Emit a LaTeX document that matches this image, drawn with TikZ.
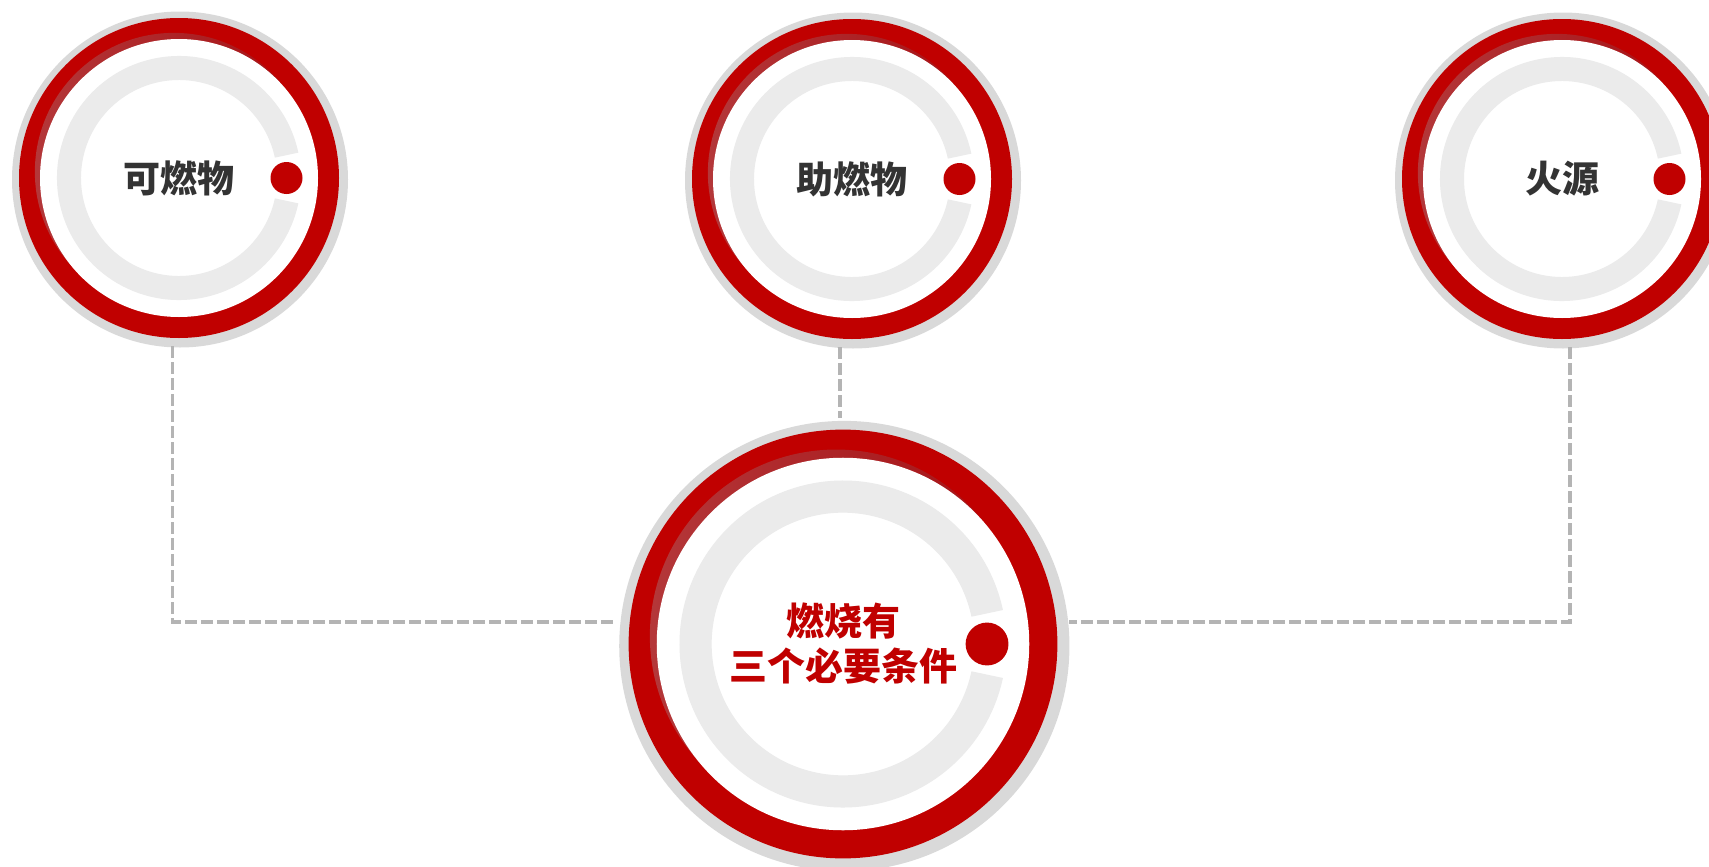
\documentclass[tikz,border=0pt]{standalone}
\usepackage{fontspec}
\newfontfamily\cjk{Noto Sans CJK SC}
\usepackage{tikz}
\definecolor{ringred}{RGB}{192,0,0}
\definecolor{ringshadow}{RGB}{217,217,217}
\definecolor{arcgrey}{RGB}{235,235,235}
\definecolor{textgrey}{RGB}{51,51,51}
\definecolor{linegrey}{RGB}{180,180,180}
\definecolor{crescentlight}{RGB}{180,56,58}
\definecolor{crescentdark}{RGB}{165,14,18}

\tikzset{
	link/.style={draw=linegrey, line width=1.85pt, dash pattern=on 6pt off 2pt},
	smalllabel/.style={circle, minimum size=168pt, inner sep=0pt, text=textgrey,
		font=\cjk\bfseries\fontsize{18.5}{22}\selectfont},
	biglabel/.style={circle, minimum size=226pt, inner sep=0pt, text=ringred, align=center,
		font=\cjk\bfseries\fontsize{19}{22.5}\selectfont}
}

\begin{document}
\begin{tikzpicture}[x=0.5pt,y=0.5pt]
		\useasboundingbox (0,0) rectangle (1709,-867);
		\clip (0,0) rectangle (1709,-867);
		% rings
		\foreach \cx/\cy/\s in {179/178/1, 852/179/1, 1562/179/1, 843/644/1.34} {
			\begin{scope}[shift={(\cx,-\cy)}, scale=\s]
				\fill[ringshadow] (1,-1.5) circle (168);
				\fill[ringred] (0,0) circle (160);
				\begin{scope}
					\clip (130:8) circle (139);
					\shade[left color=crescentlight, right color=crescentdark] (-150,-150) rectangle (150,150);
				\end{scope}
				\fill[white] (0,0) circle (139);
				\fill[arcgrey] (12:122) arc[start angle=12, end angle=348, radius=122]
					-- (348:98) arc[start angle=348, end angle=12, radius=98] -- cycle;
				\fill[ringred] (107.5,0) circle (16);
			\end{scope}
		}
		
		% labels
		\node[smalllabel] (fuel) at (179,-178) {可燃物};
		\node[smalllabel] (oxidant) at (852,-179) {助燃物};
		\node[smalllabel] (ignition) at (1562,-179) {火源};
		\node[biglabel] (burn) at (843,-644) {燃烧有\\三个必要条件};
		
		%% connectors
		\coordinate (oxfoot) at ([xshift=-6pt]oxidant.south);
		\draw[link] ([xshift=-3.2pt]fuel.south) |- ([yshift=11pt]burn.west);
		\draw[link] ([xshift=4pt]ignition.south) |- ([yshift=11pt]burn.east);
		\draw[link] (oxfoot) -- (oxfoot |- burn.north);
		\end{tikzpicture}
\end{document}
